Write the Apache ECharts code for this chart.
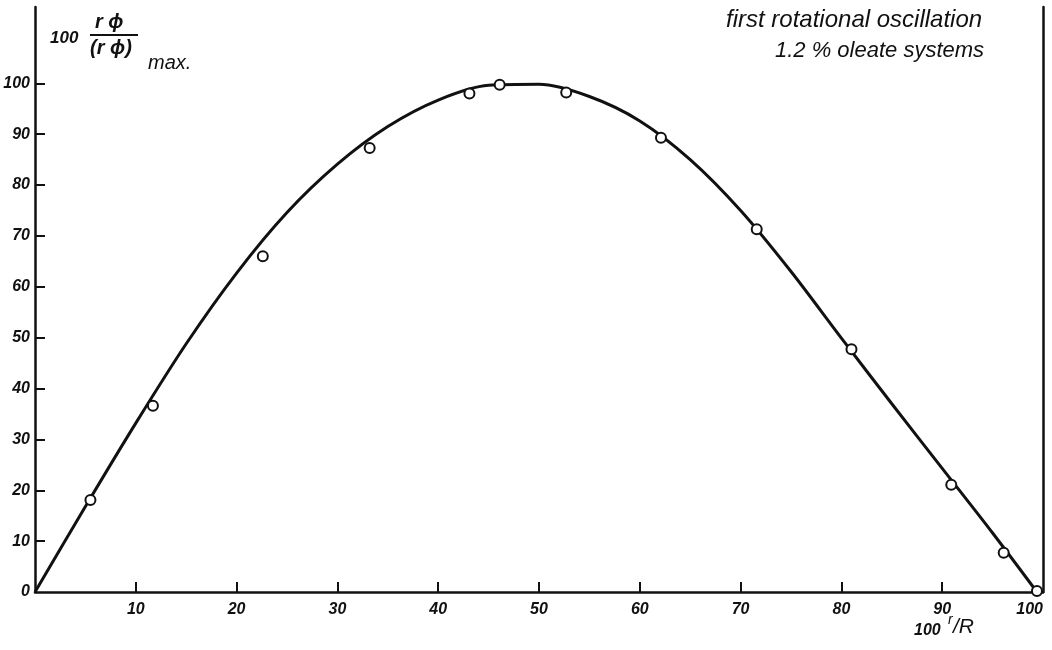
<!DOCTYPE html>
<html>
<head>
<meta charset="utf-8">
<script src="https://cdn.jsdelivr.net/npm/echarts@6/dist/echarts.min.js"></script>
<style>
  html, body { margin: 0; padding: 0; background: #fff; }
  #chart { width: 1052px; height: 650px; }
</style>
</head>
<body>
<div id="chart"></div>
<script>
// measured points (100 r/R, 100 rφ/(rφ)max)
const pointX = [5.5, 11.7, 22.6, 33.2, 43.1, 46.1, 52.7, 62.1, 71.6, 81.0, 90.9, 96.1, 99.4];
const pointY = [18.1, 36.6, 66.0, 87.3, 98.0, 99.7, 98.2, 89.3, 71.3, 47.7, 21.1, 7.7, 0.2];

// drawn curve
const curveX = [0, 5, 10, 15, 20, 25, 30, 35, 40, 45, 50, 55, 60, 65, 70, 75, 80, 85, 90, 95, 99.4];
const curveY = [0, 16.8, 33.2, 48.8, 62.7, 74.6, 84.1, 91.5, 96.7, 99.6, 99.8, 97.4, 92.6, 85.0, 75.0, 63.0, 49.9, 37.0, 24.3, 11.6, 0];

const xTicks = [10, 20, 30, 40, 50, 60, 70, 80, 90, 100];
const yTicks = [0, 10, 20, 30, 40, 50, 60, 70, 80, 90, 100];

const labelFont = {
  fontFamily: 'Liberation Sans',
  fontStyle: 'italic',
  fontWeight: 'bold',
  fontSize: 16,
  color: '#111'
};

let chart = echarts.init(document.getElementById('chart'));

const option = {
  backgroundColor: '#fff',
  animation: false,
  grid: { left: 35, right: 9, top: 7, bottom: 58 },
  xAxis: {
    type: 'value',
    min: 0,
    max: 100,
    splitLine: { show: false },
    axisLine: { lineStyle: { color: '#111', width: 2.5 } },
    axisTick: {
      inside: true, length: 10,
      customValues: xTicks.slice(0, 9),
      lineStyle: { color: '#111', width: 2 }
    },
    axisLabel: Object.assign({
      margin: 10,
      customValues: xTicks,
      alignMaxLabel: 'right'
    }, labelFont)
  },
  yAxis: [
    {
      type: 'value',
      min: 0,
      max: 115,
      splitLine: { show: false },
      axisLine: { lineStyle: { color: '#111', width: 2.5 } },
      axisTick: {
        inside: true, length: 10,
        customValues: yTicks.slice(1),
        lineStyle: { color: '#111', width: 2 }
      },
      axisLabel: Object.assign({
        margin: 5,
        customValues: yTicks
      }, labelFont)
    },
    {
      type: 'value',
      position: 'right',
      min: 0,
      max: 115,
      splitLine: { show: false },
      axisLine: { show: true, lineStyle: { color: '#111', width: 2.5 } },
      axisTick: { show: false },
      axisLabel: { show: false }
    }
  ],
  graphic: [
    { type: 'text', left: 50, top: 30, style: { text: '100', font: 'italic bold 17px "Liberation Sans"', fill: '#111' } },
    { type: 'text', left: 95, top: 12, style: { text: 'r ϕ', font: 'italic bold 20px "Liberation Sans"', fill: '#111' } },
    { type: 'line', shape: { x1: 90, y1: 35, x2: 138, y2: 35 }, style: { stroke: '#111', lineWidth: 2 } },
    { type: 'text', left: 90, top: 38, style: { text: '(r ϕ)', font: 'italic bold 20px "Liberation Sans"', fill: '#111' } },
    { type: 'text', left: 148, top: 53, style: { text: 'max.', font: 'italic 20px "Liberation Sans"', fill: '#111' } },
    { type: 'text', left: 726, top: 8, style: { text: 'first rotational oscillation', font: 'italic 24px "Liberation Sans"', fill: '#111' } },
    { type: 'text', left: 775, top: 40, style: { text: '1.2 % oleate systems', font: 'italic 22px "Liberation Sans"', fill: '#111' } },
    { type: 'text', left: 914, top: 623, style: { text: '100', font: 'italic bold 16px "Liberation Sans"', fill: '#111' } },
    { type: 'text', left: 948, top: 613, style: { text: 'r', font: 'italic 14px "Liberation Sans"', fill: '#111' } },
    { type: 'text', left: 953, top: 617, style: { text: '/R', font: 'italic 21px "Liberation Sans"', fill: '#111' } }
  ],
  series: [
    {
      type: 'line',
      data: curveX.map((x, i) => [x, curveY[i]]),
      smooth: 0.3,
      showSymbol: false,
      lineStyle: { color: '#111', width: 3 },
      z: 2
    },
    {
      type: 'scatter',
      data: pointX.map((x, i) => [x, pointY[i]]),
      symbol: 'circle',
      symbolSize: 10,
      itemStyle: { color: '#fff', opacity: 1, borderColor: '#111', borderWidth: 2 },
      z: 3
    }
  ]
};

option && chart.setOption(option);
</script>
</body>
</html>
